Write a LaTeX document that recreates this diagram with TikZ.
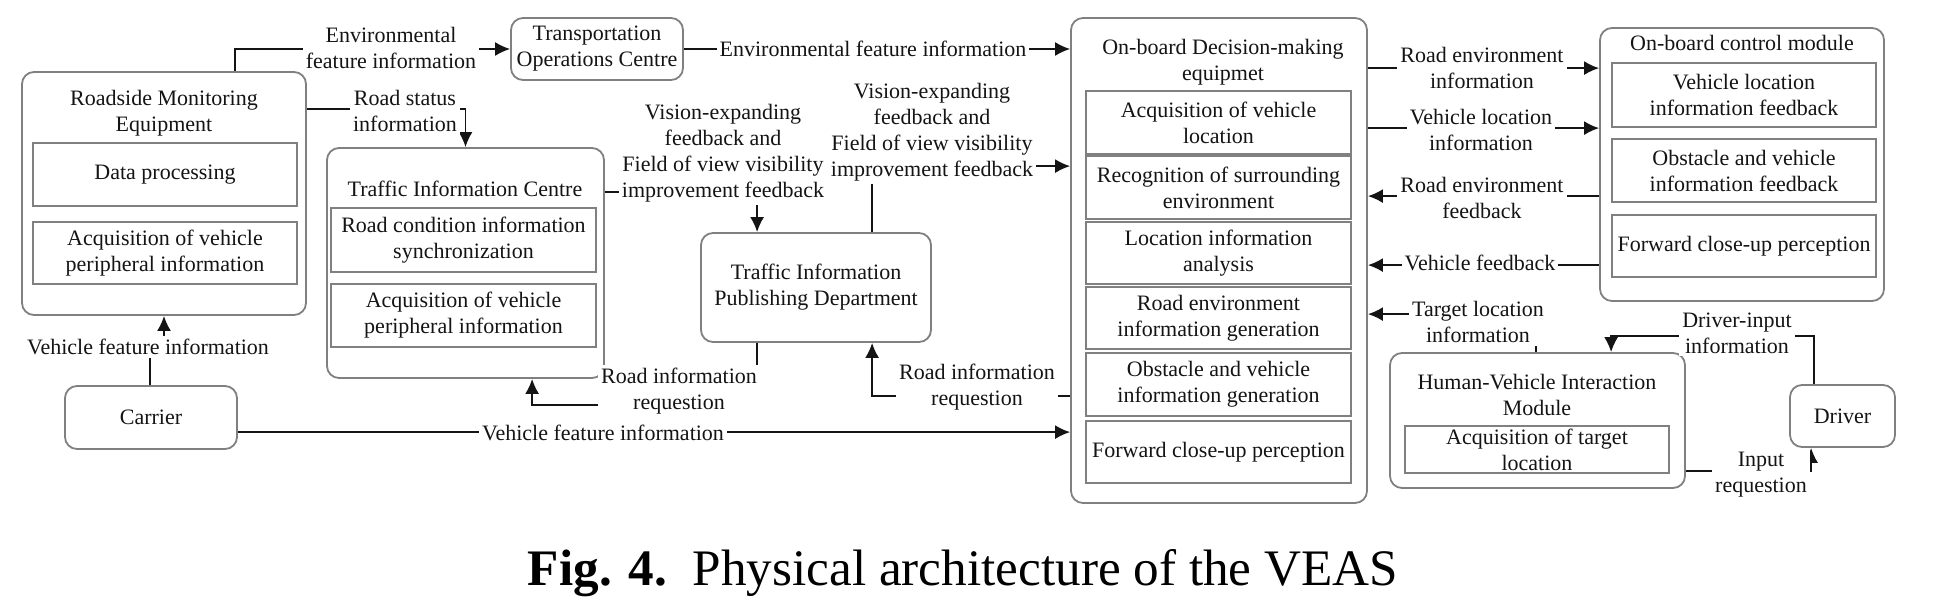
\documentclass[tikz,border=0pt]{standalone}
\usepackage{fontspec}
\setmainfont{Liberation Serif}
\usetikzlibrary{arrows.meta,fit,calc}
\definecolor{bgray}{RGB}{128,128,128}
\definecolor{tcol}{RGB}{20,20,20}
\definecolor{lcol}{RGB}{20,20,20}
\newcommand\lblfont{\fontsize{11}{13}\selectfont}
\newcommand\mkbox[5]{\node[#1, fit={#3 #4}] (#2) {};\node[txt] at (#2.center) {#5};}
\begin{document}
\begin{tikzpicture}[x=0.5pt,y=-0.5pt,
  obox/.style={draw=bgray, rounded corners=6pt, line width=0.9pt, inner sep=0pt},
  ibox/.style={draw=bgray, line width=0.8pt, inner sep=0pt},
  txt/.style={align=center, font=\lblfont, text=tcol, inner sep=0pt},
  lbl/.style={align=center, font=\lblfont, text=tcol, fill=white, inner sep=1.5pt},
  conn/.style={draw=lcol, line width=0.9pt, -{Latex[length=7.5pt,width=7pt]}}]
\useasboundingbox (0,0) rectangle (1953,605);
\fill[white] (0,0) rectangle (1953,605);

% Roadside Monitoring Equipment
\node[obox, fit={(22,72) (306,315)}] (rsm) {};
\node[txt] (rsmt) at (164,113) {Roadside Monitoring\\Equipment};
\mkbox{ibox}{rsm1}{(33,143)}{(297,206)}{Data processing}
\mkbox{ibox}{rsm2}{(33,222)}{(297,284)}{Acquisition of vehicle\\peripheral information}

% Transportation Operations Centre
\mkbox{obox}{toc}{(511,18)}{(683,80)}{Transportation\\Operations Centre}

% Traffic Information Centre
\node[obox, fit={(327,148) (604,378)}] (tic) {};
\node[txt] (tict) at (465,189) {Traffic Information Centre};
\mkbox{ibox}{tic1}{(331,208)}{(596,272)}{Road condition information\\synchronization}
\mkbox{ibox}{tic2}{(331,284)}{(596,347)}{Acquisition of vehicle\\peripheral information}

% Carrier
\mkbox{obox}{car}{(65,386)}{(237,449)}{Carrier}

% Traffic Information Publishing Department
\mkbox{obox}{tip}{(701,233)}{(931,342)}{Traffic Information\\Publishing Department}

% On-board Decision-making equipment
\node[obox, fit={(1071,18) (1367,503)}] (obd) {};
\node[txt] (obdt) at (1223,62) {On-board Decision-making\\equipmet};
\mkbox{ibox}{obd1}{(1086,91)}{(1351,154)}{Acquisition of vehicle\\location}
\mkbox{ibox}{obd2}{(1086,156)}{(1351,219)}{Recognition of surrounding\\environment}
\mkbox{ibox}{obd3}{(1086,222)}{(1351,284)}{Location information\\analysis}
\mkbox{ibox}{obd4}{(1086,287)}{(1351,349)}{Road environment\\information generation}
\mkbox{ibox}{obd5}{(1086,353)}{(1351,416)}{Obstacle and vehicle\\information generation}
\mkbox{ibox}{obd6}{(1086,421)}{(1351,483)}{Forward close-up perception}

% On-board control module
\node[obox, fit={(1600,28) (1884,301)}] (ocm) {};
\node[txt] (ocmt) at (1742,43) {On-board control module};
\mkbox{ibox}{ocm1}{(1612,63)}{(1876,127)}{Vehicle location\\information feedback}
\mkbox{ibox}{ocm2}{(1612,139)}{(1876,202)}{Obstacle and vehicle\\information feedback}
\mkbox{ibox}{ocm3}{(1612,215)}{(1876,277)}{Forward close-up perception}

% Human-Vehicle Interaction Module
\node[obox, fit={(1390,353) (1685,488)}] (hvi) {};
\node[txt] (hvit) at (1537,395) {Human-Vehicle Interaction\\Module};
\mkbox{ibox}{hvi1}{(1405,426)}{(1669,473)}{Acquisition of target\\location}

% Driver
\mkbox{obox}{drv}{(1790,385)}{(1895,447)}{Driver}

% ---------- connectors ----------
\draw[conn] (rsm.north west) ++(214,0) |- (toc.west);
\node[lbl] (l1) at (391,48) {Environmental\\feature information};

\draw[conn] (toc.east) -- (obd.west |- toc.east);
\node[lbl] (l2) at (873,49) {Environmental feature information};

\draw[conn] (rsm.north east) ++(0,38) -| (tic.north);
\node[lbl] (l3) at (405,111) {Road status\\information};

\draw[conn] (tic.north east) ++(0,45) -| ($(tip.north west)+(57,0)$);
\node[lbl] (l4) at (723,153) {Vision-expanding\\feedback and\\Field of view visibility\\improvement feedback};

\draw[conn] ($(tip.north west)+(172,0)$) |- ($(obd.north west)+(0,149)$);
\node[lbl] (l5) at (932,132) {Vision-expanding\\feedback and\\Field of view visibility\\improvement feedback};

\draw[conn] ($(tip.south west)+(57,0)$) -- ++(0,62) -| ($(tic.south west)+(206,0)$);
\node[lbl] (l6) at (679,391) {Road information\\requestion};

\draw[conn] ($(obd.north west)+(0,379)$) -| ($(tip.south west)+(172,0)$);
\node[lbl] (l7) at (977,387) {Road information\\requestion};

\draw[conn] ($(car.north east)+(0,47)$) -- ($(obd.north west)+(0,415)$);
\node[lbl] (l8) at (603,433) {Vehicle feature information};

\draw[conn] ($(car.north west)+(86,0)$) -- ++(0,-39) -| (rsm.south);
\node[lbl] (l9) at (148,347) {Vehicle feature information};

\draw[conn] ($(obd.north east)+(0,51)$) -- ($(ocm.north west)+(0,41)$);
\node[lbl] (l10) at (1482,68) {Road environment\\information};

\draw[conn] ($(obd.north east)+(0,111)$) -- ($(ocm.north west)+(0,101)$);
\node[lbl] (l11) at (1481,130) {Vehicle location\\information};

\draw[conn] ($(ocm.north west)+(0,169)$) -- ($(obd.north east)+(0,179)$);
\node[lbl] (l12) at (1482,198) {Road environment\\feedback};

\draw[conn] ($(ocm.north west)+(0,238)$) -- ($(obd.north east)+(0,248)$);
\node[lbl] (l13) at (1480,263) {Vehicle feedback};

\draw[conn] ($(hvi.north west)+(147,0)$) |- ($(obd.north east)+(0,297)$);
\node[lbl] (l14) at (1478,322) {Target location\\information};

\draw[conn] ($(drv.north west)+(25,0)$) -- ++(0,-48) -| ($(hvi.north west)+(222,0)$);
\node[lbl] (l15) at (1737,333) {Driver-input\\information};

\draw[conn] ($(hvi.north east)+(0,119)$) -| ($(drv.south west)+(22,0)$);
\node[lbl] (l16) at (1761,475) {Input\\requestion};

% caption
\node[font=\fontsize{25.6}{30}\selectfont, text=black, inner sep=0pt] (cap) at (963,573) {\textbf{Fig. 4.}\hspace{0.5em}Physical architecture of the VEAS};
\end{tikzpicture}
\end{document}
